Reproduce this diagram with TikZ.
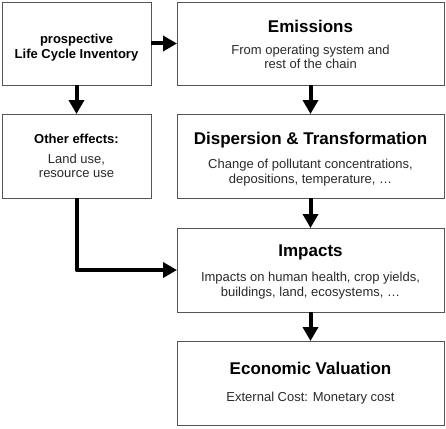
\documentclass[tikz,border=0pt]{standalone}
\usepackage{fontspec}
\setmainfont{Liberation Sans}
\usetikzlibrary{arrows.meta}
\definecolor{boxline}{HTML}{555555}
\definecolor{subtext}{HTML}{2A2A2A}
\tikzset{
  box/.style={draw=boxline, line width=0.9pt, fill=white, inner sep=0pt, outer sep=0pt},
  title/.style={anchor=base, inner sep=0pt, font=\fontsize{17}{20}\selectfont\bfseries, text=black},
  ltitle/.style={anchor=base, inner sep=0pt, font=\fontsize{13}{16}\selectfont\bfseries, text=black},
  body/.style={anchor=base, inner sep=0pt, font=\fontsize{13}{15}\selectfont, text=subtext},
  flow/.style={line width=4pt, -{Triangle[length=14pt,width=15pt]}, line join=round}
}
\begin{document}
\begin{tikzpicture}[x=1pt,y=-1pt]
\path[use as bounding box, fill=white] (0,0) rectangle (446,428);
% boxes
\node[box, minimum width=149pt, minimum height=83pt] (lci) at (76.5,43.5) {};
\node[box, minimum width=267pt, minimum height=83pt] (emis) at (310.5,43.5) {};
\node[box, minimum width=149pt, minimum height=84pt] (other) at (76.5,156) {};
\node[box, minimum width=267pt, minimum height=84pt] (disp) at (310.5,156) {};
\node[box, minimum width=267pt, minimum height=84pt] (imp) at (310.5,270) {};
\node[box, minimum width=267pt, minimum height=84pt] (econ) at (310.5,383) {};
% texts
\node[ltitle] (lci1) at (76.5,43) {prospective};
\node[ltitle] (lci2) at (76.5,59) {Life Cycle Inventory};
\node[title] (emisT) at (310.5,32.3) {Emissions};
\node[body] (emis1) at (310.5,54) {From operating system and};
\node[body] (emis2) at (310.5,68.5) {rest of the chain};
\node[ltitle] (otherT) at (76.5,143.3) {Other effects:};
\node[body] (other1) at (76.5,163.3) {Land use,};
\node[body] (other2) at (76.5,177.7) {resource use};
\node[title] (dispT) at (310.5,144) {Dispersion \& Transformation};
\node[body] (disp1) at (310.5,168.3) {Change of pollutant concentrations,};
\node[body] (disp2) at (310.5,183.3) {depositions, temperature, \dots};
\node[title] (impT) at (310.5,256.7) {Impacts};
\node[body] (imp1) at (310.5,281.7) {Impacts on human health, crop yields,};
\node[body] (imp2) at (310.5,296.7) {buildings, land, ecosystems, \dots};
\node[title] (econT) at (310.5,374.3) {Economic Valuation};
\node[body] (econ1) at (310.5,401.7) {External Cost: Monetary cost};
% arrows
\draw[flow] (lci.east) -- (emis.west);
\draw[flow] (lci.south) -- (other.north);
\draw[flow] (emis.south) -- (disp.north);
\draw[flow] (disp.south) -- (imp.north);
\draw[flow] (imp.south) -- (econ.north);
\draw[flow] (other.south) |- (imp.west);
\end{tikzpicture}
\end{document}
